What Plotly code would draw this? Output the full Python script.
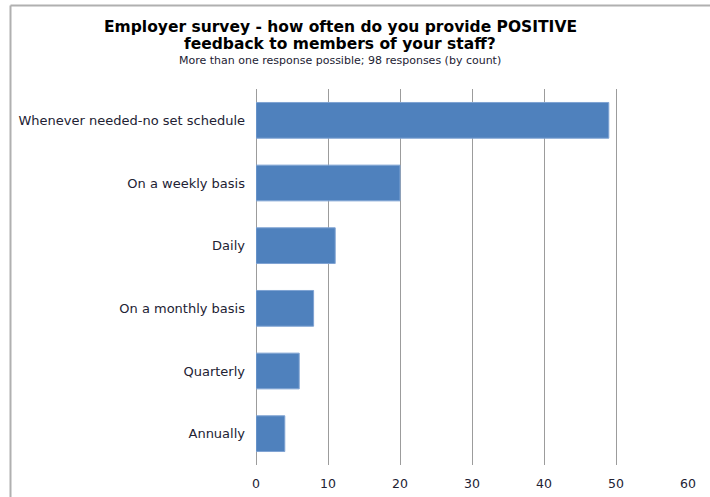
import plotly.graph_objects as go

# Survey responses (count), top to bottom as displayed
categories = [
    "Whenever needed-no set schedule",
    "On a weekly basis",
    "Daily",
    "On a monthly basis",
    "Quarterly",
    "Annually",
]
counts = [49, 20, 11, 8, 6, 4]
x_ticks = [0, 10, 20, 30, 40, 50, 60]

title_lines = [
    "Employer survey - how often do you provide POSITIVE",
    "feedback to members of your staff?",
]
subtitle = "More than one response possible; 98 responses (by count)"

W, H = 710, 497
L, R, T, B = 256, 22, 89, 32
pw, ph = W - L - R, H - T - B


def px_x(p):
    return (p - L) / pw


def px_y(p):
    return (H - B - p) / ph


fig = go.Figure(
    go.Bar(
        x=counts[::-1],
        y=categories[::-1],
        orientation="h",
        width=0.57,
        marker=dict(color="#4f81bd", line=dict(color="#7fa3d3", width=1)),
    )
)

grid = "#9c9c9c"
fig.update_layout(
    width=W,
    height=H,
    margin=dict(l=L, r=R, t=T, b=B),
    paper_bgcolor="white",
    plot_bgcolor="white",
    showlegend=False,
    font=dict(family="DejaVu Sans", color="#222233"),
    xaxis=dict(
        range=[0, 60],
        tickvals=x_ticks,
        showgrid=True,
        gridcolor=grid,
        gridwidth=1.3,
        zeroline=True,
        zerolinecolor=grid,
        zerolinewidth=1.3,
        showline=False,
        ticks="",
        ticklabelstandoff=9,
        tickfont=dict(size=12.5),
        automargin=False,
        fixedrange=True,
    ),
    yaxis=dict(
        showgrid=False,
        ticks="",
        ticklabelstandoff=10,
        tickfont=dict(size=13),
        range=[-0.5, 5.5],
        automargin=False,
        fixedrange=True,
    ),
    shapes=[
        # outer chart frame
        dict(type="line", xref="paper", yref="paper",
             x0=px_x(10.5), x1=px_x(712), y0=px_y(5.5), y1=px_y(5.5),
             line=dict(color="#b0b0b0", width=2)),
        dict(type="line", xref="paper", yref="paper",
             x0=px_x(10.5), x1=px_x(10.5), y0=px_y(5.5), y1=px_y(500),
             line=dict(color="#b0b0b0", width=2)),
    ],
    annotations=[
        dict(text=f"<b>{title_lines[0]}</b>",
             xref="paper", yref="paper", x=px_x(340), y=px_y(27),
             xanchor="center", yanchor="middle", showarrow=False,
             font=dict(size=15.5, family="DejaVu Sans", color="#000000")),
        dict(text=f"<b>{title_lines[1]}</b>",
             xref="paper", yref="paper", x=px_x(340), y=px_y(44.5),
             xanchor="center", yanchor="middle", showarrow=False,
             font=dict(size=15.5, family="DejaVu Sans", color="#000000")),
        dict(text=subtitle,
             xref="paper", yref="paper", x=px_x(340), y=px_y(60.5),
             xanchor="center", yanchor="middle", showarrow=False,
             font=dict(size=11, family="DejaVu Sans", color="#222233")),
    ],
)

fig.write_html("out.html")
